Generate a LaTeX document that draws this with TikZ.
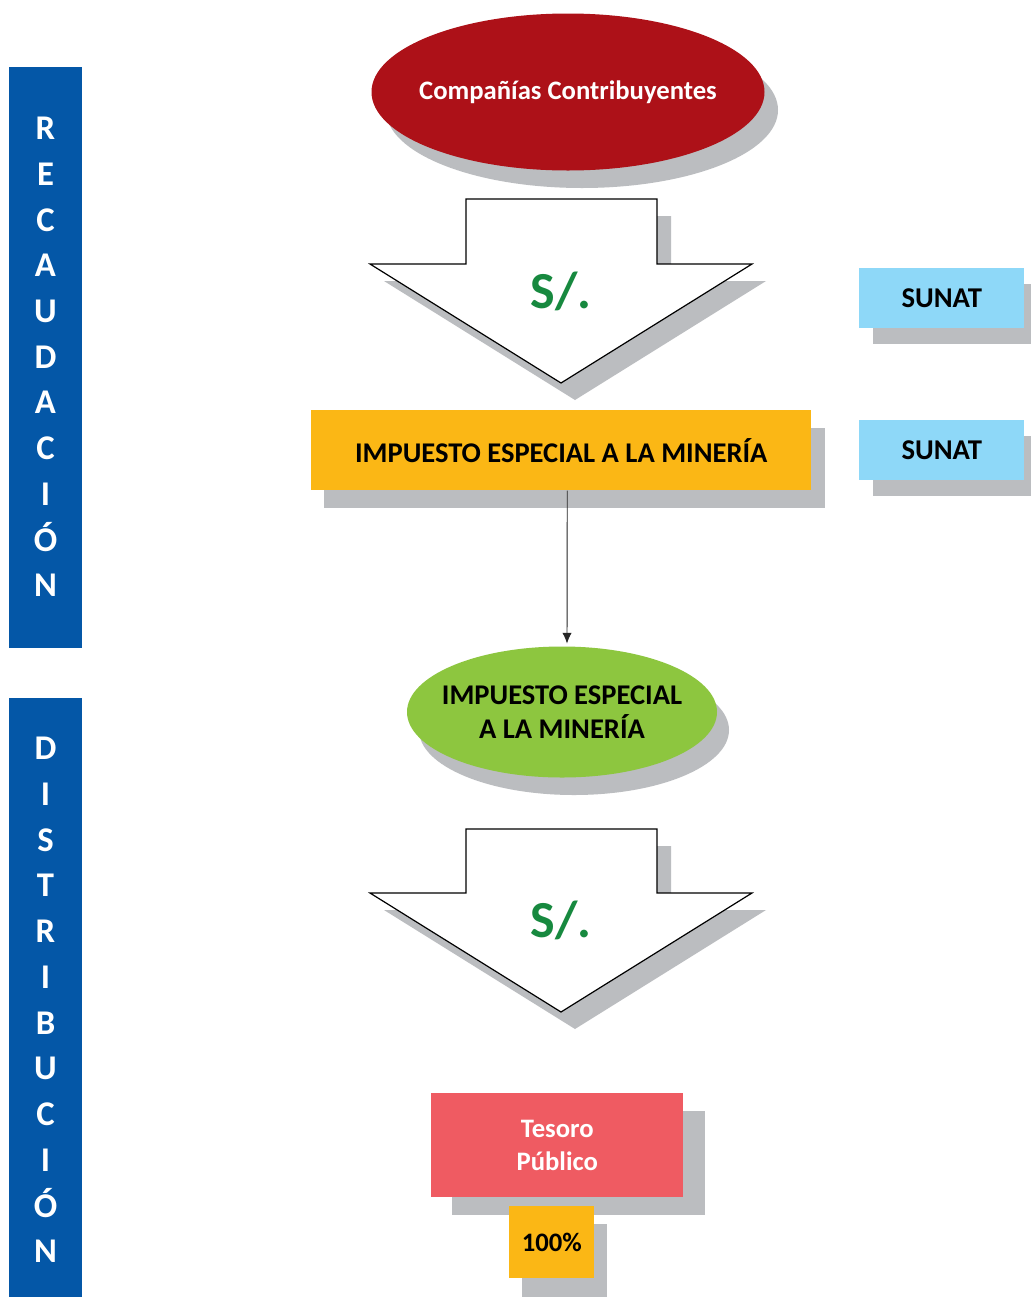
\documentclass[tikz,border=0pt]{standalone}
\usepackage{fontspec}
\setmainfont{Carlito}
\usetikzlibrary{shapes.geometric,arrows.meta}
\newlength\pxu
\setlength\pxu{0.75pt}
\definecolor{barblue}{HTML}{0457A7}
\definecolor{redell}{HTML}{AD1118}
\definecolor{shadowgray}{HTML}{BBBDC0}
\definecolor{soles}{HTML}{17893F}
\definecolor{orangebox}{HTML}{FBB715}
\definecolor{lightblue}{HTML}{8ED8F8}
\definecolor{greenell}{HTML}{8DC63F}
\definecolor{pinkbox}{HTML}{EF5B62}
\tikzset{
  bar/.style={fill=barblue, draw=none},
  vletters/.style={text=white, font=\bfseries\fontsize{26}{34.3}\selectfont, align=center, inner sep=0pt},
  arrowshape/.style={fill=white, draw=black, line width=0.9pt, line join=miter},
  solestext/.style={text=soles, font=\bfseries\fontsize{39}{44}\selectfont, inner sep=0pt},
  sunatbox/.style={fill=lightblue, draw=none, minimum width=165\pxu, minimum height=60\pxu, inner sep=0pt, font=\bfseries\fontsize{21.5}{25}\selectfont},
  ellnode/.style={ellipse, inner sep=0pt, outer sep=0pt},
}
\begin{document}
\begin{tikzpicture}[x=0.75pt,y=-0.75pt]
\useasboundingbox (0,0) rectangle (1031,1297);
\fill[white] (0,0) rectangle (1031,1297);

% left bars
\fill[bar] (9,67) rectangle (82,648);
\node[vletters] (recaud) at (45.5,357) {R\\E\\C\\A\\U\\D\\A\\C\\I\\Ó\\N};
\fill[bar] (9,698) rectangle (82,1297);
\node[vletters] (distr) at (45.5,1000) {D\\I\\S\\T\\R\\I\\B\\U\\C\\I\\Ó\\N};

% red ellipse
\fill[shadowgray] (582,110) ellipse [x radius=196, y radius=78];
\node[ellnode, fill=redell, minimum width=393\pxu, minimum height=157\pxu] (comp) at (568,92) {};
\node[text=white, font=\bfseries\fontsize{20}{24}\selectfont, inner sep=0pt] (comptext) at (comp.center) {Compañías Contribuyentes};

% arrow 1
\begin{scope}[shift={(14,17)}]
\fill[shadowgray] (466,199) -- (657,199) -- (657,264) -- (752,264) -- (561,383) -- (370,264) -- (466,264) -- cycle;
\end{scope}
\draw[arrowshape] (466,199) -- (657,199) -- (657,264) -- (752,264) -- (561,383) -- (370,264) -- (466,264) -- cycle;
\node[solestext] (s1) at (561,291) {S/.};

% SUNAT boxes
\fill[shadowgray] (873,284) rectangle (1031,344);
\node[sunatbox, anchor=north west] (sunat1) at (859,268) {SUNAT};
\fill[shadowgray] (873,436) rectangle (1031,496);
\node[sunatbox, anchor=north west] (sunat2) at (859,420) {SUNAT};

% orange box
\fill[shadowgray] (324,428) rectangle (825,508);
\node[fill=orangebox, minimum width=500\pxu, minimum height=80\pxu, anchor=north west, inner sep=0pt,
      font=\bfseries\fontsize{21.4}{25}\selectfont] (iem) at (311,410) {IMPUESTO ESPECIAL A LA MINERÍA};

% green ellipse
\fill[shadowgray] (574,730) ellipse [x radius=155, y radius=65];
\node[ellnode, fill=greenell, minimum width=310\pxu, minimum height=131\pxu] (iemell) at (562,712) {};
\node[align=center, inner sep=0pt, font=\bfseries\fontsize{21.4}{25}\selectfont] (iemtext) at (iemell.center) {IMPUESTO ESPECIAL\\A LA MINERÍA};

% connector
\draw[-{Latex[length=8pt,width=7pt]}, line width=0.7pt, draw=black!85] ([xshift=6\pxu]iem.south) -- ([xshift=5\pxu,yshift=3\pxu]iemell.north);

% arrow 2
\begin{scope}[shift={(14,17)}]
\fill[shadowgray] (466,829) -- (657,829) -- (657,893) -- (752,893) -- (561,1012) -- (370,893) -- (466,893) -- cycle;
\end{scope}
\draw[arrowshape] (466,829) -- (657,829) -- (657,893) -- (752,893) -- (561,1012) -- (370,893) -- (466,893) -- cycle;
\node[solestext] (s2) at (561,920) {S/.};

% Tesoro Publico
\fill[shadowgray] (452,1111) rectangle (705,1215);
\node[fill=pinkbox, minimum width=252\pxu, minimum height=104\pxu, anchor=north west, inner sep=0pt, align=center,
      text=white, font=\bfseries\fontsize{20}{25}\selectfont] (tesoro) at (431,1093) {Tesoro\\Público};

% 100%
\fill[shadowgray] (522,1224) rectangle (607,1297);
\node[fill=orangebox, minimum width=85\pxu, minimum height=72\pxu, anchor=north west, inner sep=0pt,
      font=\bfseries\fontsize{20}{24}\selectfont] (pct) at (509,1206) {100\%};
\end{tikzpicture}
\end{document}
